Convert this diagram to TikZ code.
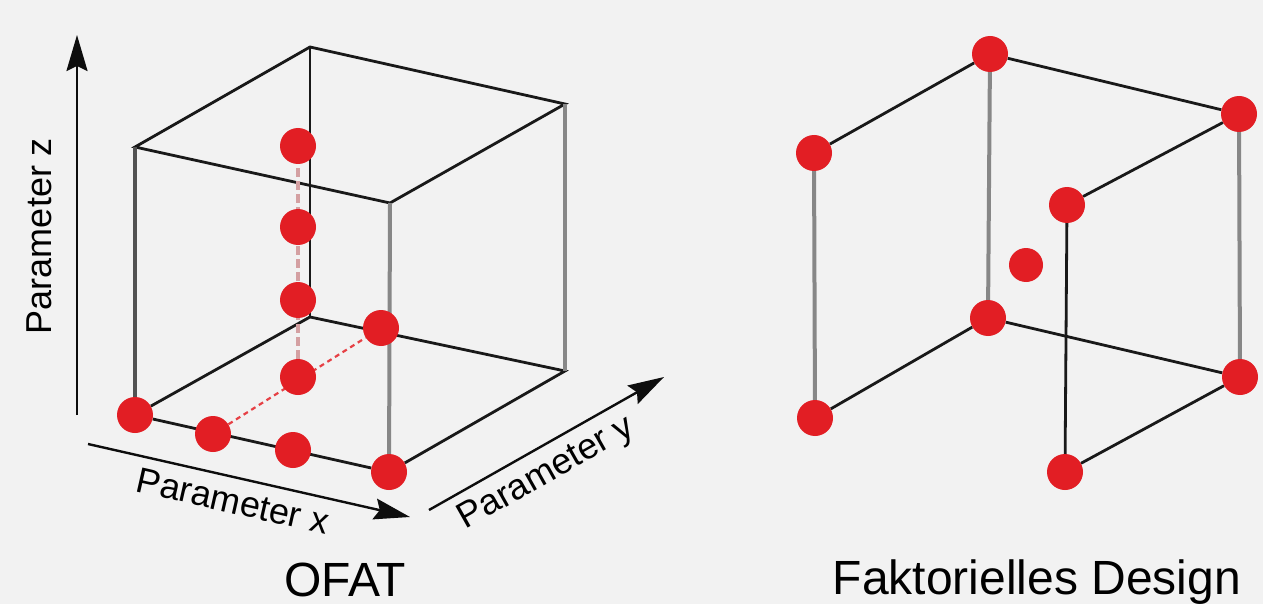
\documentclass[tikz,border=0pt]{standalone}
\usepackage{fontspec}
\setmainfont{Liberation Sans}
\usetikzlibrary{arrows.meta, backgrounds}
\definecolor{dotred}{RGB}{226, 30, 36}
\definecolor{bggray}{RGB}{242, 242, 242}
\definecolor{postgray}{RGB}{135, 135, 135}
\definecolor{dashpink}{RGB}{212, 160, 162}

\begin{document}
\begin{tikzpicture}[x=1pt, y=-1pt,
  dot/.style={circle, fill=dotred, minimum size=36pt, inner sep=0pt},
  edge/.style={line width=2.8pt, black!90},
  post/.style={line width=4pt, postgray},
  axis/.style={line width=2.4pt, black!95, -{Stealth[length=36pt, width=21pt, inset=5pt]}},
  axislabel/.style={font=\fontsize{36}{36}\selectfont, inner sep=0pt},
  title/.style={font=\fontsize{48}{48}\selectfont, inner sep=0pt, anchor=base}]
  \useasboundingbox (0,0) rectangle (1263,604);

  % OFAT cube corners
  \coordinate (otbl) at (310,47);
  \coordinate (otbr) at (565,104);
  \coordinate (otfl) at (135,147);
  \coordinate (otfr) at (390,203);
  \coordinate (obbl) at (310,317);
  \coordinate (obbr) at (565,371);

  % OFAT runs
  \node[dot] (ofbl) at (135,415) {};
  \node[dot] (ox1) at (213,434) {};
  \node[dot] (ox2) at (293,450) {};
  \node[dot] (ofbr) at (389,472) {};
  \node[dot] (oy1) at (298,377) {};
  \node[dot] (oy2) at (381,328) {};
  \node[dot] (oz1) at (298,300) {};
  \node[dot] (oz2) at (298,227) {};
  \node[dot] (oz3) at (298,146) {};

  % axes
  \coordinate (zfrom) at (77,415);
  \coordinate (zto) at (77,35);
  \coordinate (xfrom) at (88,444);
  \coordinate (xto) at (410,517);
  \coordinate (yfrom) at (429,510);
  \coordinate (yto) at (664,377);
  \draw[axis] (zfrom) -- (zto);
  \draw[axis] (xfrom) -- (xto);
  \draw[axis] (yfrom) -- (yto);
  \node[axislabel, rotate=90] (zlabel) at (39,236) {Parameter z};
  \node[axislabel, rotate=-12.8] (xlabel) at (233,501) {Parameter x};
  \node[axislabel, rotate=29.5] (ylabel) at (547,474) {Parameter y};

  % factorial design
  \node[dot] (rtbl) at (990,54) {};
  \node[dot] (rtbr) at (1239,114) {};
  \node[dot] (rtfl) at (814,153) {};
  \node[dot] (rtfr) at (1067,205) {};
  \node[dot] (rbbl) at (988,318) {};
  \node[dot] (rbbr) at (1240,377) {};
  \node[dot] (rfbl) at (815,418) {};
  \node[dot] (rfbr) at (1065,472) {};
  \node[dot, minimum size=34pt] (rmid) at (1026,265) {};

  \node[title] (ofat) at (345,596) {OFAT};
  \node[title] (fakt) at (1037,594) {Faktorielles Design};

  \begin{scope}[on background layer]
    \fill[bggray] (0,0) rectangle (1263,604);
    % OFAT cube
    \draw[edge] (otfl) -- (otbl) -- (otbr) -- (otfr) -- cycle;
    \draw[edge] (ofbl) -- (ofbr);
    \draw[edge] (ofbl) -- (obbl) -- (obbr) -- (ofbr);
    \draw[line width=3.4pt, black!68] (otfl) -- (ofbl);
    \draw[edge] (otbl) -- (obbl);
    \draw[post] (otfr) -- (ofbr);
    \draw[post] (otbr) -- (obbr);
    \draw[line width=4.4pt, dashpink, dash pattern=on 9pt off 4pt] (oy1) -- (oz3);
    \draw[line width=2.2pt, dotred!85, dash pattern=on 5pt off 4pt] (ox1) -- (oy2);
    % factorial cube
    \draw[edge] (rtfl) -- (rtbl) -- (rtbr) -- (rtfr) -- cycle;
    \draw[edge] (rfbl) -- (rbbl) -- (rbbr) -- (rfbr) -- cycle;
    \draw[post] (rtfl) -- (rfbl);
    \draw[post] (rtbl) -- (rbbl);
    \draw[edge] (rtfr) -- (rfbr);
    \draw[post] (rtbr) -- (rbbr);
  \end{scope}
\end{tikzpicture}
\end{document}
